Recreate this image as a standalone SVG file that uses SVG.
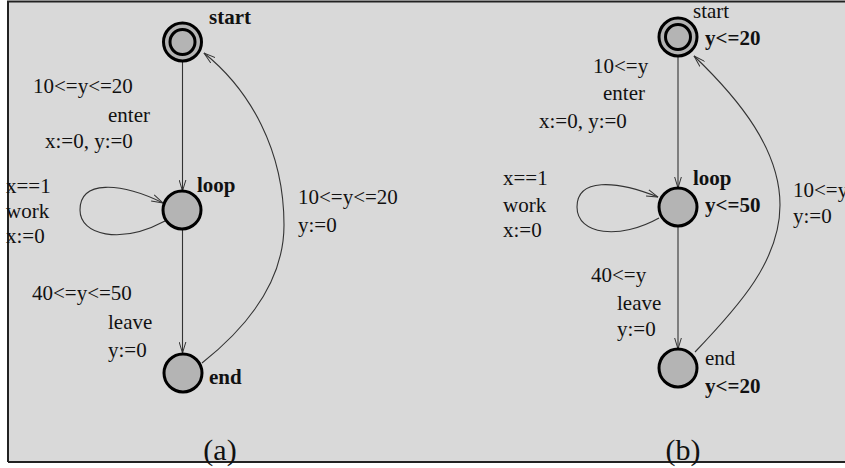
<svg xmlns="http://www.w3.org/2000/svg" width="845" height="468" viewBox="0 0 845 468">
<defs>
<style>
.t{font-family:"Liberation Serif","Times New Roman",serif;font-size:21px;fill:#111}
.b{font-weight:bold}
.cap{font-family:"Liberation Serif","Times New Roman",serif;font-size:30px;fill:#111}
.node{fill:#b4b4b4;stroke:#000;stroke-width:3}
.edge{fill:none;stroke:#333;stroke-width:1.1}
</style>
<marker id="arr" viewBox="0 0 12 8" refX="11.5" refY="4" markerWidth="12" markerHeight="8" markerUnits="userSpaceOnUse" orient="auto">
<path d="M0,0.5 L11.5,4 L0,7.5" fill="none" stroke="#333" stroke-width="1"/>
</marker>
</defs>
<rect x="0" y="0" width="845" height="468" fill="#fff"/>
<rect x="8" y="1" width="837" height="461" fill="#d9d9d9"/>
<path d="M8,462 V1.5 H845 M8,462 H845" fill="none" stroke="#222" stroke-width="2"/>

<g id="connectors">
<path class="edge" d="M182.5,62 L182.5,191" marker-end="url(#arr)"/>
<path class="edge" d="M182.5,229 L182.5,353" marker-end="url(#arr)"/>
<path class="edge" d="M202,363 C250,325 284,280 284,225 C284,150 250,90 204,53" marker-end="url(#arr)"/>
<path class="edge" d="M165,221 C120,245 80,235 80,210 C80,180 120,182 163,203" marker-end="url(#arr)"/>
<path class="edge" d="M678,57 L678,188" marker-end="url(#arr)"/>
<path class="edge" d="M678,226 L678,349" marker-end="url(#arr)"/>
<path class="edge" d="M695,352 C740,305 780,260 780,205 C780,150 740,100 694,56" marker-end="url(#arr)"/>
<path class="edge" d="M659,218 C620,240 577,235 577,207 C577,178 615,180 658,197" marker-end="url(#arr)"/>
</g>

<g id="a-start">
<circle class="node" cx="182.5" cy="42" r="19"/>
<circle class="node" cx="182.5" cy="42" r="12.5" stroke-width="2.5"/>
<text class="t b" x="209" y="24">start</text>
</g>
<g id="a-loop">
<circle class="node" cx="182" cy="210" r="19"/>
<text class="t b" x="197" y="192">loop</text>
</g>
<g id="a-end">
<circle class="node" cx="183" cy="373" r="19"/>
<text class="t b" x="209" y="384">end</text>
</g>
<g id="a-labels">
<text class="t" x="33" y="93">10&lt;=y&lt;=20</text>
<text class="t" x="108" y="122">enter</text>
<text class="t" x="45" y="148">x:=0, y:=0</text>
<text class="t" x="6" y="193">x==1</text>
<text class="t" x="6" y="218">work</text>
<text class="t" x="6" y="243">x:=0</text>
<text class="t" x="298" y="204">10&lt;=y&lt;=20</text>
<text class="t" x="298" y="232">y:=0</text>
<text class="t" x="32" y="300">40&lt;=y&lt;=50</text>
<text class="t" x="108" y="329">leave</text>
<text class="t" x="108" y="357">y:=0</text>
<text class="cap" x="220" y="460" text-anchor="middle">(a)</text>
</g>

<g id="b-start">
<circle class="node" cx="678" cy="37" r="19"/>
<circle class="node" cx="678" cy="37" r="12.5" stroke-width="2.5"/>
<text class="t" x="693" y="18">start</text>
<text class="t b" x="705" y="45">y&lt;=20</text>
</g>
<g id="b-loop">
<circle class="node" cx="678" cy="207" r="19"/>
<text class="t b" x="693" y="185">loop</text>
<text class="t b" x="705" y="212">y&lt;=50</text>
</g>
<g id="b-end">
<circle class="node" cx="678" cy="368" r="19"/>
<text class="t" x="705" y="365">end</text>
<text class="t b" x="705" y="393">y&lt;=20</text>
</g>
<g id="b-labels">
<text class="t" x="593" y="73">10&lt;=y</text>
<text class="t" x="603" y="100">enter</text>
<text class="t" x="539" y="128">x:=0, y:=0</text>
<text class="t" x="503" y="185">x==1</text>
<text class="t" x="503" y="212">work</text>
<text class="t" x="503" y="237">x:=0</text>
<text class="t" x="793" y="197">10&lt;=y</text>
<text class="t" x="793" y="223">y:=0</text>
<text class="t" x="591" y="282">40&lt;=y</text>
<text class="t" x="617" y="310">leave</text>
<text class="t" x="617" y="336">y:=0</text>
<text class="cap" x="683" y="460" text-anchor="middle">(b)</text>
</g>
</svg>
